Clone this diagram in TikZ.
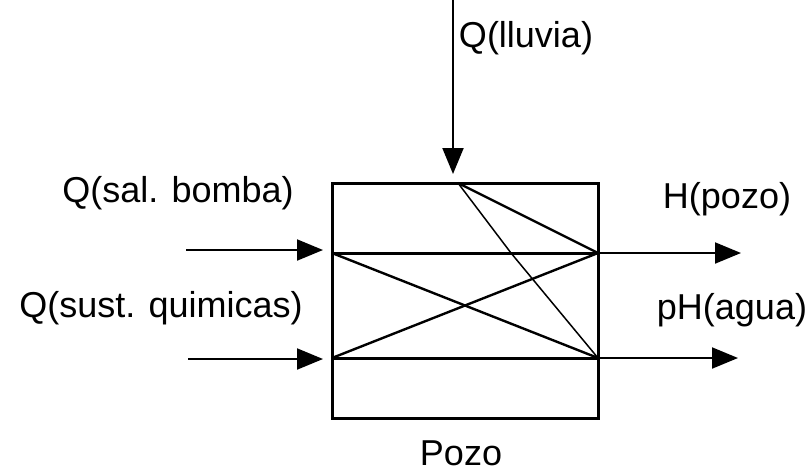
\documentclass[tikz,border=0pt]{standalone}
\usepackage{fontspec}
\setmainfont{Liberation Sans}
\usetikzlibrary{positioning, arrows.meta}

\begin{document}
\begin{tikzpicture}[
  x=1pt, y=-1pt,
  font=\fontsize{36}{40}\selectfont,
  block/.style={draw, line width=3pt, minimum width=266pt, minimum height=235pt,
                inner sep=0pt},
  lab/.style={inner sep=0pt},
  flow/.style={line width=2pt, -{Triangle[length=26pt, width=21pt]}},
  rail/.style={line width=3pt},
  tie/.style={line width=2.4pt},
  thin/.style={line width=1.5pt}
]
\useasboundingbox (0,0) rectangle (808,475);
% the well
\node[block] (pozo) at (465,300.5) {};
\node[lab] (name) at (461,453) {Pozo};
\coordinate (a1) at (332,253);
\coordinate (b1) at (598,253);
\coordinate (a2) at (332,358);
\coordinate (b2) at (598,358);
\coordinate (top) at (458,183);
\coordinate (kink) at (511,253);
\draw[rail] (a1) -- (b1);
\draw[rail] (a2) -- (b2);
\draw[tie] (a1) -- (b2);
\draw[tie] (a2) -- (b1);
\draw[tie] (top) -- (b1);
\draw[thin] (top) -- (kink) -- (b2);
% inputs
\coordinate (rain) at (453,0);
\coordinate (rainend) at (453,174);
\draw[flow] (rain) -- (rainend);
\node[lab] (lluvia) at (526,38) {Q(lluvia)};
\coordinate (in1) at (186,250);
\coordinate (in1end) at (323,250);
\draw[flow] (in1) -- (in1end);
\node[lab] (bomba) at (178,193) {Q(sal. bomba)};
\coordinate (in2) at (188,359);
\coordinate (in2end) at (323,359);
\draw[flow] (in2) -- (in2end);
\node[lab] (quim) at (161,308) {Q(sust. quimicas)};
% outputs
\coordinate (out1) at (741,253);
\coordinate (out2) at (738,358);
\draw[flow] (b1) -- (out1);
\draw[flow] (b2) -- (out2);
\node[lab] (altura) at (727,199) {H(pozo)};
\node[lab] (ph) at (732,310) {pH(agua)};
\end{tikzpicture}
\end{document}
